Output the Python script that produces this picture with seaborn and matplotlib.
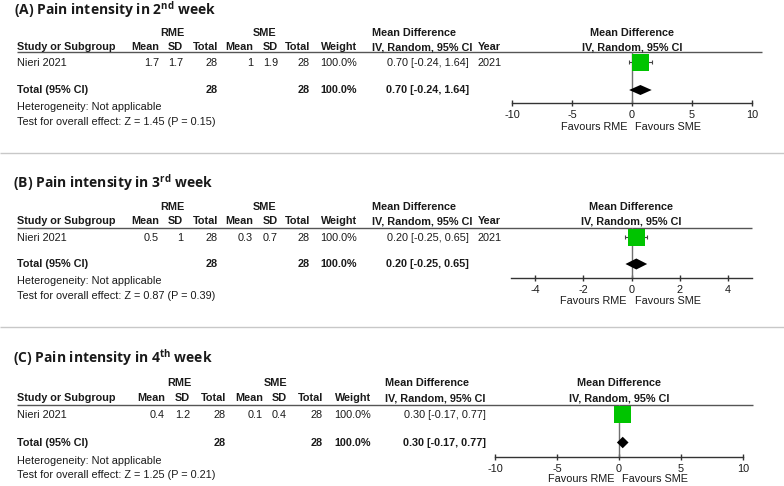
import matplotlib
matplotlib.use('Agg')
import matplotlib.pyplot as plt
import seaborn as sns

# values
panel_titles = ['(A) Pain intensity in 2', '(B) Pain intensity in 3', '(C) Pain intensity in 4']
title_sup = ['nd', 'rd', 'th']
study_names = ['Nieri 2021', 'Nieri 2021', 'Nieri 2021']
study_years = ['2021', '2021', '']
rme_mean = [1.7, 0.5, 0.4]
rme_sd = [1.7, 1, 1.2]
rme_total = [28, 28, 28]
sme_mean = [1, 0.3, 0.1]
sme_sd = [1.9, 0.7, 0.4]
sme_total = [28, 28, 28]
weights = [100.0, 100.0, 100.0]
mean_diff = [0.70, 0.20, 0.30]
ci_low = [-0.24, -0.25, -0.17]
ci_high = [1.64, 0.65, 0.77]
z_stat = [1.45, 0.87, 1.25]
p_val = [0.15, 0.39, 0.21]
axis_ticks = [[-10, -5, 0, 5, 10], [-4, -2, 0, 2, 4], [-10, -5, 0, 5, 10]]
axis_range = [(-10, 10), (-5, 5), (-10, 10)]

# pixel layout of each panel (y measured from the top of the image)
layout = [
    dict(title_x=14, title=10, group=33, head=47, rule=52.5, study=62.5, total=90, het=107, test=122,
         axis=103, fav=127.5, cols=[159, 183, 218, 253, 278, 310, 357], md_l=372, md_r=469, year_l=478,
         rme_c=172, sme_c=265, rule_r=762, fx=(512, 752), dia_h=10),
    dict(title_x=13, title=183, group=207, head=221, rule=227.5, study=237.5, total=264, het=281, test=296,
         axis=277.7, fav=301, cols=[159, 183, 218, 253, 278, 310, 357], md_l=372, md_r=469, year_l=478,
         rme_c=172, sme_c=265, rule_r=752, fx=(511, 752), dia_h=11),
    dict(title_x=13, title=358, group=383, head=398, rule=405, study=414.5, total=442.5, het=461, test=475,
         axis=457, fav=479, cols=[165, 190, 226, 263, 287, 323, 371], md_l=385, md_r=486, year_l=None,
         rme_c=179, sme_c=276, rule_r=753, fx=(495, 743), dia_h=11.5),
]

W, H = 784, 486
FS = 7.8
INK = '#1a1a1a'
GREEN = '#00c400'

sns.set_style('white')
plt.rcParams['font.family'] = ['Liberation Sans', 'DejaVu Sans']
plt.rcParams['mathtext.fontset'] = 'custom'
plt.rcParams['mathtext.rm'] = 'Open Sans'
plt.rcParams['mathtext.bf'] = 'Open Sans:bold'

fig = plt.figure(figsize=(W / 100, H / 100), dpi=100)
bg = fig.add_axes([0, 0, 1, 1])
bg.set_xlim(0, W)
bg.set_ylim(H, 0)
bg.axis('off')


def put(x, y, s, ha='left', bold=False):
    bg.text(x, y, s, ha=ha, va='center', fontsize=FS, color=INK,
            fontweight='bold' if bold else 'normal')


# light grey separators between panels
bg.hlines([153, 327], 0, W, color='#c8c8c8', lw=1)

for i, L in enumerate(layout):
    # title with superscript ordinal
    bg.text(L['title_x'], L['title'], panel_titles[i] + r'$^{\mathbf{' + title_sup[i] + '}}$ week',
            ha='left', va='center', fontsize=10, fontweight='bold', family='Open Sans', color=INK)

    c = L['cols']
    put(L['rme_c'], L['group'], 'RME', ha='center', bold=True)
    put(L['sme_c'], L['group'], 'SME', ha='center', bold=True)
    put(17, L['head'], 'Study or Subgroup', bold=True)
    for x, h in zip(c, ['Mean', 'SD', 'Total', 'Mean', 'SD', 'Total', 'Weight']):
        put(x, L['head'], h, ha='right', bold=True)
    put(L['md_l'], L['group'], 'Mean Difference', bold=True)
    put(L['md_l'], L['head'], 'IV, Random, 95% CI', bold=True)
    if L['year_l']:
        put(L['year_l'], L['head'], 'Year', bold=True)
    bg.hlines(L['rule'], 17, L['rule_r'], color='#555555', lw=1)

    # study row
    put(17, L['study'], study_names[i])
    row = [f'{rme_mean[i]:g}', f'{rme_sd[i]:g}', f'{rme_total[i]}',
           f'{sme_mean[i]:g}', f'{sme_sd[i]:g}', f'{sme_total[i]}', f'{weights[i]:.1f}%']
    for x, s in zip(c, row):
        put(x, L['study'], s, ha='right')
    ci_txt = f'{mean_diff[i]:.2f} [{ci_low[i]:.2f}, {ci_high[i]:.2f}]'
    put(L['md_r'], L['study'], ci_txt, ha='right')
    if L['year_l']:
        put(L['year_l'], L['study'], study_years[i])

    # total row
    put(17, L['total'], 'Total (95% CI)', bold=True)
    put(c[2], L['total'], f'{rme_total[i]}', ha='right', bold=True)
    put(c[5], L['total'], f'{sme_total[i]}', ha='right', bold=True)
    put(c[6], L['total'], f'{weights[i]:.1f}%', ha='right', bold=True)
    put(L['md_r'], L['total'], ci_txt, ha='right', bold=True)
    put(17, L['het'], 'Heterogeneity: Not applicable')
    put(17, L['test'], f'Test for overall effect: Z = {z_stat[i]:.2f} (P = {p_val[i]:.2f})')

    # forest plot area: x in effect units, y in image pixels
    x0, x1 = L['fx']
    fx_mid = (x0 + x1) / 2
    put(fx_mid, L['group'], 'Mean Difference', ha='center', bold=True)
    put(fx_mid, L['head'], 'IV, Random, 95% CI', ha='center', bold=True)

    fax = fig.add_axes([x0 / W, 1 - L['axis'] / H, (x1 - x0) / W, (L['axis'] - L['rule']) / H])
    fax.set_facecolor('none')
    fax.set_xlim(*axis_range[i])
    fax.set_ylim(L['axis'], L['rule'])
    fax.axvline(0, color='#707070', lw=1, zorder=1)

    fax.errorbar(mean_diff[i], L['study'],
                 xerr=[[mean_diff[i] - ci_low[i]], [ci_high[i] - mean_diff[i]]],
                 fmt='none', ecolor='#444444', elinewidth=0.8, capsize=1.5, capthick=0.8, zorder=2)
    sns.scatterplot(x=[mean_diff[i]], y=[L['study']], marker='s', s=150, color=GREEN,
                    edgecolor='none', ax=fax, zorder=3, clip_on=False)

    h = L['dia_h'] / 2
    fax.fill([ci_low[i], mean_diff[i], ci_high[i], mean_diff[i]],
             [L['total'], L['total'] - h, L['total'], L['total'] + h],
             color='black', lw=0, zorder=4, clip_on=False)

    sns.despine(ax=fax, left=True)
    fax.spines['bottom'].set_color('#333333')
    fax.spines['bottom'].set_linewidth(1)
    fax.set_yticks([])
    fax.set_xticks(axis_ticks[i])
    fax.set_xticklabels([f'{t:g}' for t in axis_ticks[i]])
    fax.tick_params(axis='x', direction='inout', length=5, width=1, colors='#333333',
                    labelcolor=INK, labelsize=FS, pad=2.5, bottom=True)
    fax.set_xlabel('')
    fax.set_ylabel('')

    fax.annotate('Favours RME', xy=(0, L['fav']), xytext=(-3.5, 0), textcoords='offset points',
                 ha='right', va='center', fontsize=FS, color=INK, annotation_clip=False)
    fax.annotate('Favours SME', xy=(0, L['fav']), xytext=(2.5, 0), textcoords='offset points',
                 ha='left', va='center', fontsize=FS, color=INK, annotation_clip=False)

fig.savefig('out.png', dpi=100)
